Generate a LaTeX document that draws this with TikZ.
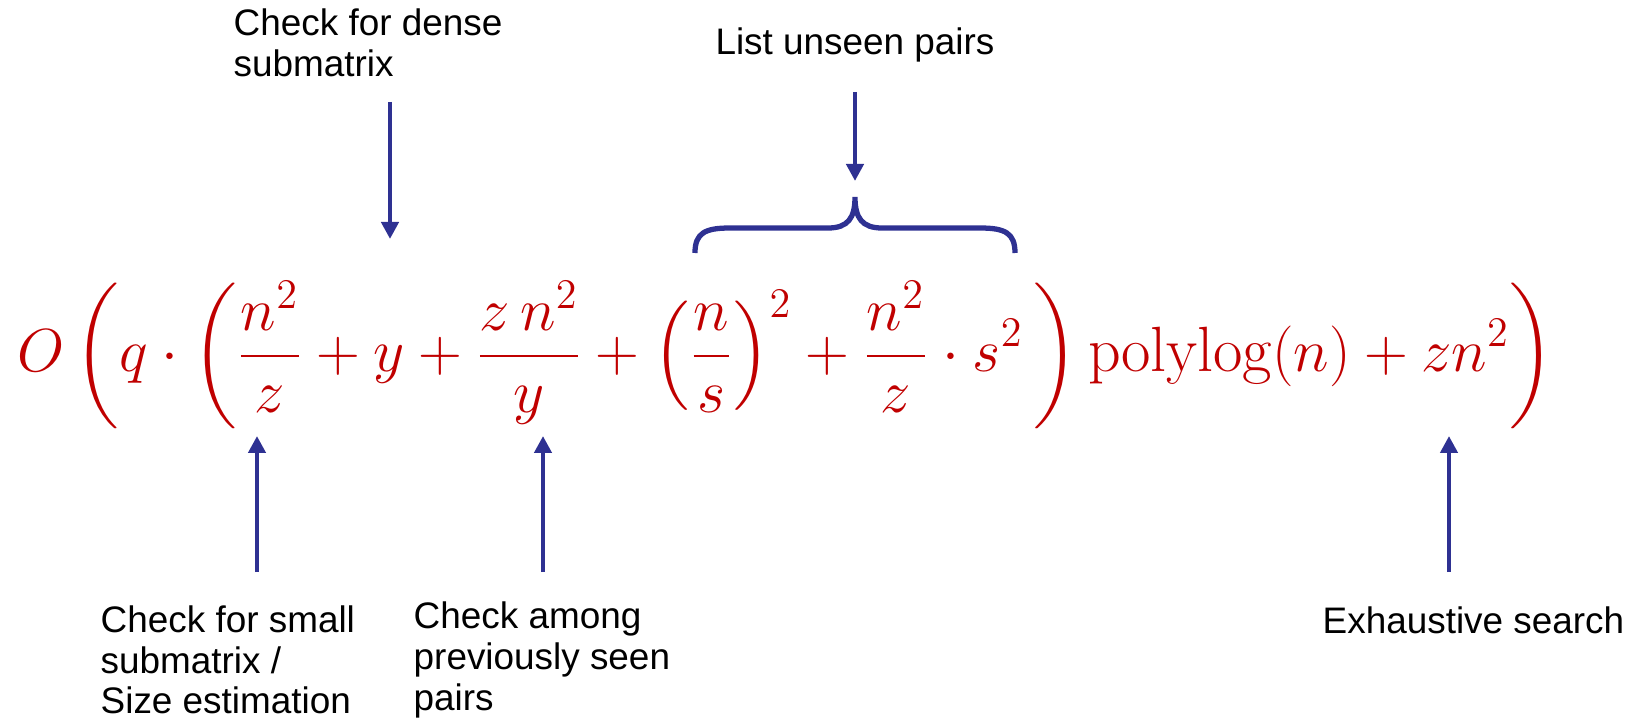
\documentclass[tikz,border=0pt]{standalone}
\usepackage{amsmath}
\usepackage{fontspec}
\newfontfamily\notefont{Liberation Sans}
\usetikzlibrary{arrows.meta}
\definecolor{boundred}{RGB}{192,0,0}
\definecolor{notenavy}{RGB}{46,49,146}
\tikzset{
  note/.style={font=\notefont\fontsize{10.5}{11.6}\selectfont,align=left,inner sep=0pt,anchor=west},
  pointer/.style={notenavy,line width=1.4pt,-{Triangle[width=1.7mm,length=1.7mm]}},
}
\begin{document}
\begin{tikzpicture}[x=0.1mm,y=-0.1mm]
\useasboundingbox (0,0) rectangle (1643,727);
% the bound
\node[boundred,inner sep=0pt,font=\fontsize{18.2}{22}\selectfont] (bound) at (786,355)
  {$\displaystyle O\left(q\cdot\left(\frac{n^2}{z}+y+\frac{z\,n^2}{y}+\left(\frac{n}{s}\right)^2+\frac{n^2}{z}\cdot s^2\,\right)\mathrm{polylog}(n)+zn^2\right)$};
% labels above
\node[note] (dense) at (233,43) {Check for dense\\submatrix};
\node[note,anchor=center] (unseen) at (855,45) {List unseen pairs};
% labels below
\node[note] (small) at (100,660) {Check for small\\submatrix /\\Size estimation};
\node[note] (among) at (413,660) {Check among\\previously seen\\pairs};
\node[note] (exhaust) at (1322,620) {Exhaustive search};
% arrow ends
\coordinate (denseTail) at (390,102);
\coordinate (denseHead) at (390,239);
\coordinate (unseenTail) at (855,92);
\coordinate (unseenHead) at (855,181);
\coordinate (smallTail) at (257,572);
\coordinate (smallHead) at (257,436);
\coordinate (amongTail) at (543,572);
\coordinate (amongHead) at (543,436);
\coordinate (exhaustTail) at (1449,572);
\coordinate (exhaustHead) at (1449,436);
\draw[pointer] (denseTail) -- (denseHead);
\draw[pointer] (unseenTail) -- (unseenHead);
\draw[pointer] (smallTail) -- (smallHead);
\draw[pointer] (amongTail) -- (amongHead);
\draw[pointer] (exhaustTail) -- (exhaustHead);
% brace over the unseen-pair terms
\draw[notenavy,line width=1.5pt] (695,253) .. controls (695,233) and (705,228) .. (730,228)
  -- (828,228) .. controls (848,228) and (855,218) .. (855,197)
  .. controls (855,218) and (862,228) .. (882,228) -- (980,228)
  .. controls (1005,228) and (1015,233) .. (1015,253);
\end{tikzpicture}
\end{document}
